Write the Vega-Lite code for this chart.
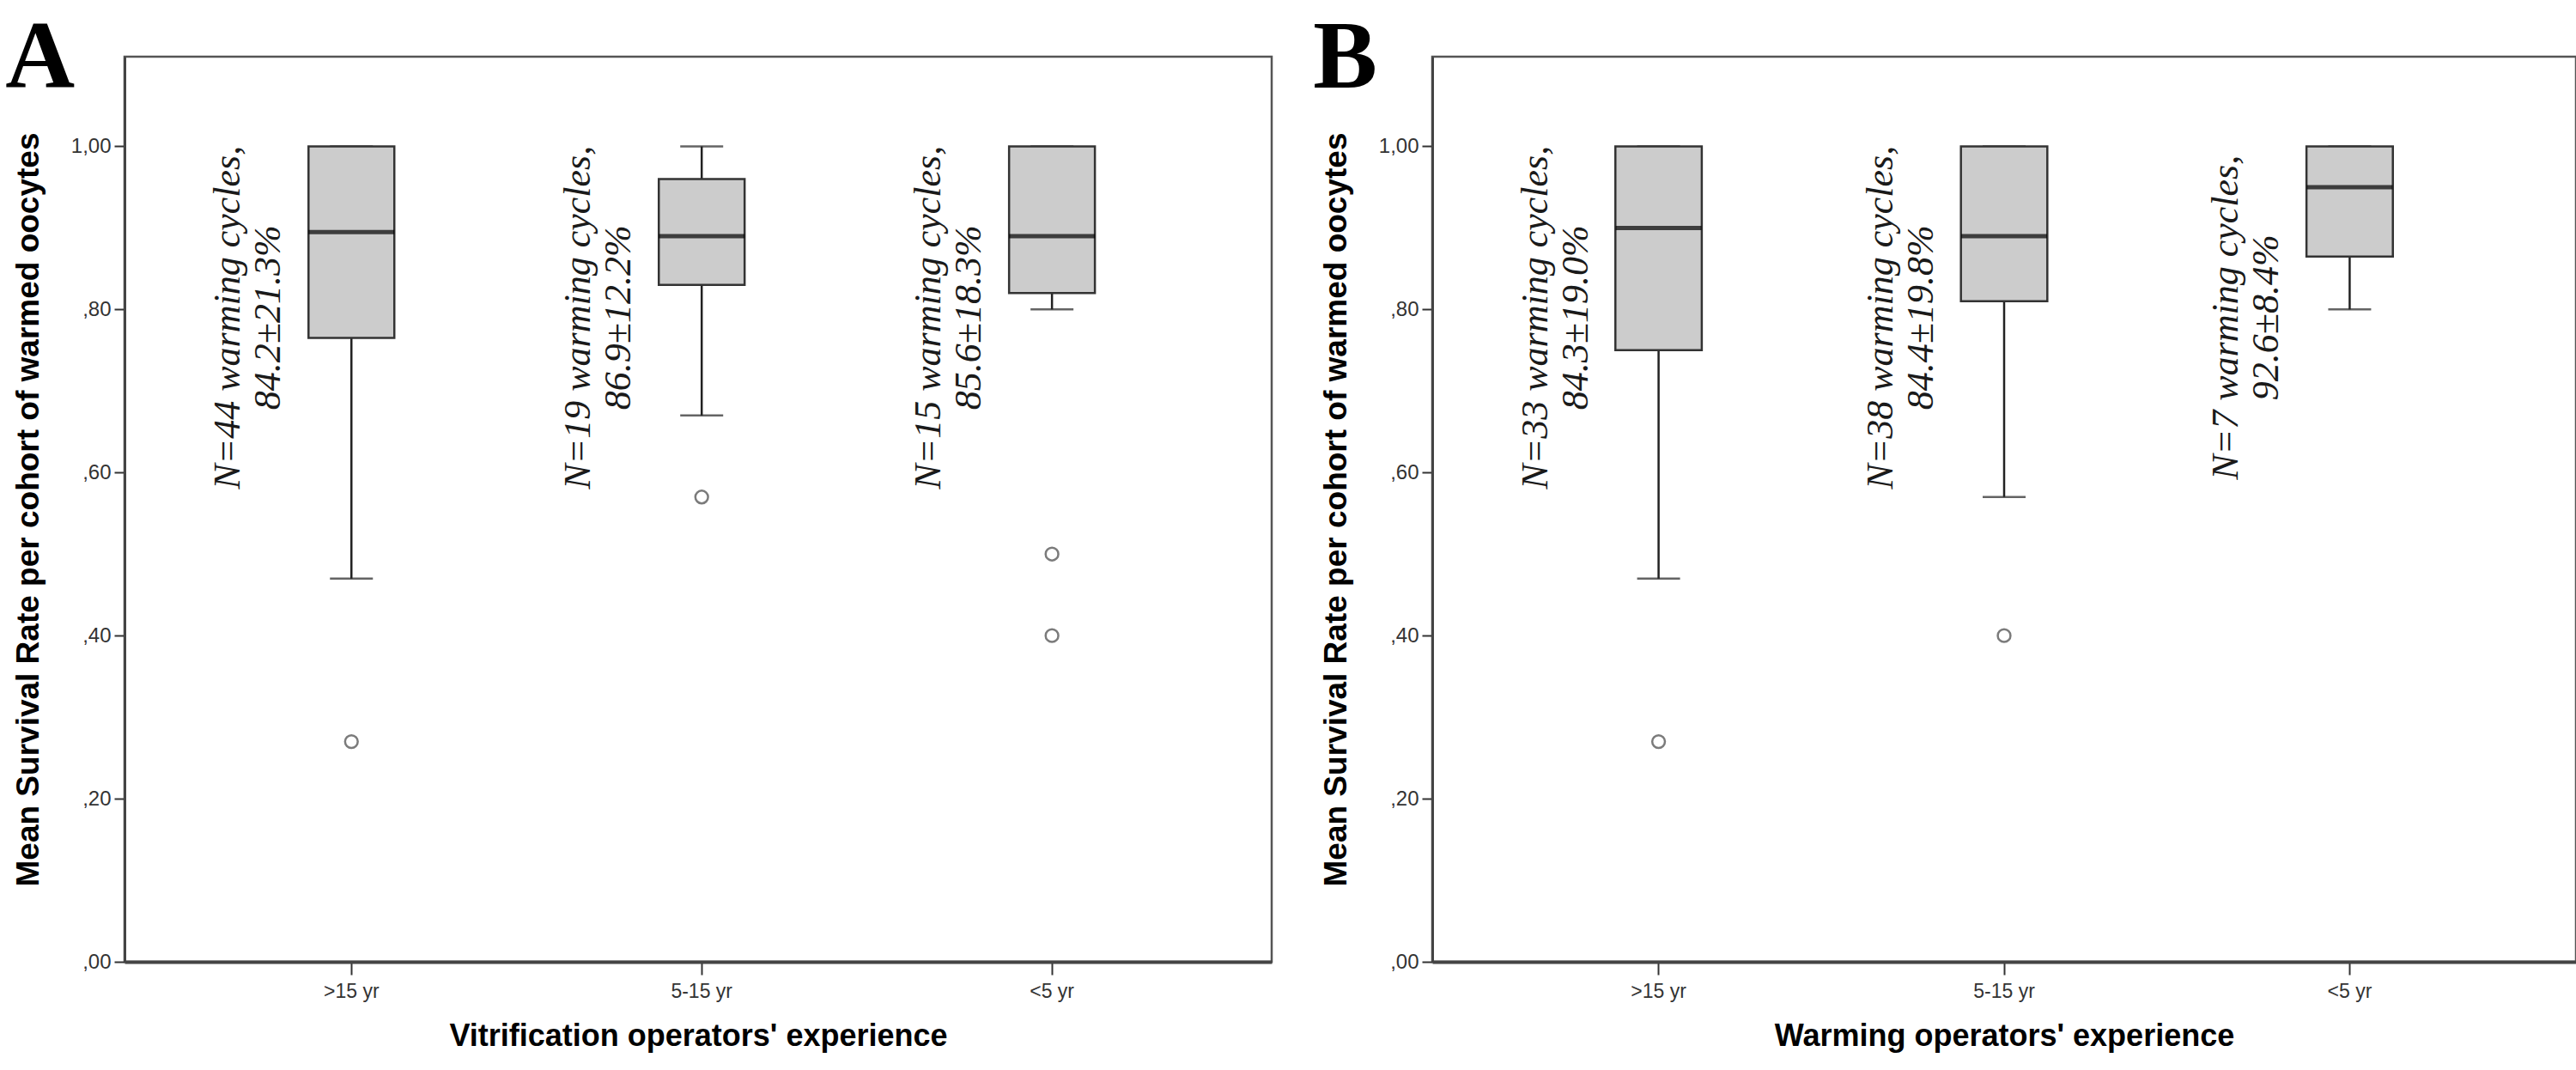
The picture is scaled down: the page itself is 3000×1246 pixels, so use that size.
{
  "$schema": "https://vega.github.io/schema/vega-lite/v6.json",
  "background": "white",
  "padding": {"left": 5, "top": 10, "right": 0, "bottom": 0},
  "spacing": 45,
  "datasets": {
    "boxes": [
      {"panel": "A", "exp": ">15 yr", "lo": 0.47, "q1": 0.765, "med": 0.895, "q3": 1.0, "hi": 1.0},
      {"panel": "A", "exp": "5-15 yr", "lo": 0.67, "q1": 0.83, "med": 0.89, "q3": 0.96, "hi": 1.0},
      {"panel": "A", "exp": "<5 yr", "lo": 0.80, "q1": 0.82, "med": 0.89, "q3": 1.0, "hi": 1.0},
      {"panel": "B", "exp": ">15 yr", "lo": 0.47, "q1": 0.75, "med": 0.90, "q3": 1.0, "hi": 1.0},
      {"panel": "B", "exp": "5-15 yr", "lo": 0.57, "q1": 0.81, "med": 0.89, "q3": 1.0, "hi": 1.0},
      {"panel": "B", "exp": "<5 yr", "lo": 0.80, "q1": 0.865, "med": 0.95, "q3": 1.0, "hi": 1.0}
    ],
    "outliers": [
      {"panel": "A", "exp": ">15 yr", "v": 0.27},
      {"panel": "A", "exp": "5-15 yr", "v": 0.57},
      {"panel": "A", "exp": "<5 yr", "v": 0.50},
      {"panel": "A", "exp": "<5 yr", "v": 0.40},
      {"panel": "B", "exp": ">15 yr", "v": 0.27},
      {"panel": "B", "exp": "5-15 yr", "v": 0.40}
    ],
    "labels": [
      {"panel": "A", "exp": ">15 yr", "txt": "N=44 warming cycles,\n84.2±21.3%"},
      {"panel": "A", "exp": "5-15 yr", "txt": "N=19 warming cycles,\n86.9±12.2%"},
      {"panel": "A", "exp": "<5 yr", "txt": "N=15 warming cycles,\n85.6±18.3%"},
      {"panel": "B", "exp": ">15 yr", "txt": "N=33 warming cycles,\n84.3±19.0%"},
      {"panel": "B", "exp": "5-15 yr", "txt": "N=38 warming cycles,\n84.4±19.8%"},
      {"panel": "B", "exp": "<5 yr", "txt": "N=7 warming cycles,\n92.6±8.4%"}
    ]
  },
  "hconcat": [
    {
      "width": 1336,
      "height": 1054,
      "title": {"text": "A", "anchor": "start", "frame": "bounds", "font": "Liberation Serif", "fontSize": 112, "fontWeight": "bold", "color": "#000", "baseline": "alphabetic", "offset": -148, "dx": -8},
      "layer": [
        {
          "data": {"name": "boxes"},
          "transform": [{"filter": "datum.panel == 'A'"}],
          "mark": {"type": "rule", "color": "#222", "strokeWidth": 2.5},
          "encoding": {
            "x": {"field": "exp", "type": "nominal", "sort": [">15 yr", "5-15 yr", "<5 yr"],
                  "scale": {"type": "band", "domain": [">15 yr", "5-15 yr", "<5 yr"], "paddingInner": 0.755, "paddingOuter": 0.515, "align": 0.51},
                  "axis": {"title": "Vitrification operators' experience", "labelAngle": 0, "tickSize": 15, "labelPadding": 8, "labelFontSize": 23, "titleFontSize": 36, "titlePadding": 23, "domainWidth": 4}},
            "y": {"field": "lo", "type": "quantitative",
                  "scale": {"domain": [0, 1.11], "nice": false, "zero": true},
                  "axis": {"title": "Mean Survival Rate per cohort of warmed oocytes", "values": [0, 0.2, 0.4, 0.6, 0.8, 1.0], "labelExpr": "datum.value >= 1 ? '1,00' : ',' + format(datum.value*100, '02d')", "tickSize": 12, "labelPadding": 4, "labelFontSize": 24, "titleFontSize": 37, "titlePadding": 30, "domainWidth": 3}},
            "y2": {"field": "hi"}
          }
        },
        {
          "data": {"name": "boxes"},
          "transform": [{"filter": "datum.panel == 'A'"}],
          "mark": {"type": "tick", "color": "#222", "thickness": 2.5, "size": 50},
          "encoding": {"x": {"field": "exp", "type": "nominal"}, "y": {"field": "lo", "type": "quantitative"}}
        },
        {
          "data": {"name": "boxes"},
          "transform": [{"filter": "datum.panel == 'A'"}],
          "mark": {"type": "tick", "color": "#222", "thickness": 2.5, "size": 50},
          "encoding": {"x": {"field": "exp", "type": "nominal"}, "y": {"field": "hi", "type": "quantitative"}}
        },
        {
          "data": {"name": "boxes"},
          "transform": [{"filter": "datum.panel == 'A'"}],
          "mark": {"type": "bar", "fill": "#cccccc", "stroke": "#333333", "strokeWidth": 2.5},
          "encoding": {"x": {"field": "exp", "type": "nominal"}, "y": {"field": "q1", "type": "quantitative"}, "y2": {"field": "q3"}}
        },
        {
          "data": {"name": "boxes"},
          "transform": [{"filter": "datum.panel == 'A'"}],
          "mark": {"type": "tick", "color": "#000", "thickness": 5, "size": 100},
          "encoding": {"x": {"field": "exp", "type": "nominal"}, "y": {"field": "med", "type": "quantitative"}}
        },
        {
          "data": {"name": "outliers"},
          "transform": [{"filter": "datum.panel == 'A'"}],
          "mark": {"type": "point", "shape": "circle", "filled": false, "stroke": "#444", "strokeWidth": 2.5, "size": 220},
          "encoding": {"x": {"field": "exp", "type": "nominal"}, "y": {"field": "v", "type": "quantitative"}}
        },
        {
          "data": {"name": "labels"},
          "transform": [{"filter": "datum.panel == 'A'"}],
          "mark": {"type": "text", "angle": 270, "align": "center", "baseline": "middle", "font": "Liberation Serif", "fontStyle": "italic", "fontSize": 44, "lineHeight": 47, "lineBreak": "\n", "dy": -143, "color": "#1a1a1a"},
          "encoding": {"x": {"field": "exp", "type": "nominal"}, "y": {"datum": 0.79, "type": "quantitative"}, "text": {"field": "txt"}}
        }
      ]
    },
    {
      "width": 1332,
      "height": 1054,
      "title": {"text": "B", "anchor": "start", "frame": "bounds", "font": "Liberation Serif", "fontSize": 112, "fontWeight": "bold", "color": "#000", "baseline": "alphabetic", "offset": -148, "dx": -8},
      "layer": [
        {
          "data": {"name": "boxes"},
          "transform": [{"filter": "datum.panel == 'B'"}],
          "mark": {"type": "rule", "color": "#222", "strokeWidth": 2.5},
          "encoding": {
            "x": {"field": "exp", "type": "nominal", "sort": [">15 yr", "5-15 yr", "<5 yr"],
                  "scale": {"type": "band", "domain": [">15 yr", "5-15 yr", "<5 yr"], "paddingInner": 0.75, "paddingOuter": 0.53, "align": 0.5},
                  "axis": {"title": "Warming operators' experience", "labelAngle": 0, "tickSize": 15, "labelPadding": 8, "labelFontSize": 23, "titleFontSize": 36, "titlePadding": 23, "domainWidth": 4}},
            "y": {"field": "lo", "type": "quantitative",
                  "scale": {"domain": [0, 1.11], "nice": false, "zero": true},
                  "axis": {"title": "Mean Survival Rate per cohort of warmed oocytes", "values": [0, 0.2, 0.4, 0.6, 0.8, 1.0], "labelExpr": "datum.value >= 1 ? '1,00' : ',' + format(datum.value*100, '02d')", "tickSize": 12, "labelPadding": 4, "labelFontSize": 24, "titleFontSize": 37, "titlePadding": 30, "domainWidth": 3}},
            "y2": {"field": "hi"}
          }
        },
        {
          "data": {"name": "boxes"},
          "transform": [{"filter": "datum.panel == 'B'"}],
          "mark": {"type": "tick", "color": "#222", "thickness": 2.5, "size": 50},
          "encoding": {"x": {"field": "exp", "type": "nominal"}, "y": {"field": "lo", "type": "quantitative"}}
        },
        {
          "data": {"name": "boxes"},
          "transform": [{"filter": "datum.panel == 'B'"}],
          "mark": {"type": "tick", "color": "#222", "thickness": 2.5, "size": 50},
          "encoding": {"x": {"field": "exp", "type": "nominal"}, "y": {"field": "hi", "type": "quantitative"}}
        },
        {
          "data": {"name": "boxes"},
          "transform": [{"filter": "datum.panel == 'B'"}],
          "mark": {"type": "bar", "fill": "#cccccc", "stroke": "#333333", "strokeWidth": 2.5},
          "encoding": {"x": {"field": "exp", "type": "nominal"}, "y": {"field": "q1", "type": "quantitative"}, "y2": {"field": "q3"}}
        },
        {
          "data": {"name": "boxes"},
          "transform": [{"filter": "datum.panel == 'B'"}],
          "mark": {"type": "tick", "color": "#000", "thickness": 5, "size": 100},
          "encoding": {"x": {"field": "exp", "type": "nominal"}, "y": {"field": "med", "type": "quantitative"}}
        },
        {
          "data": {"name": "outliers"},
          "transform": [{"filter": "datum.panel == 'B'"}],
          "mark": {"type": "point", "shape": "circle", "filled": false, "stroke": "#444", "strokeWidth": 2.5, "size": 220},
          "encoding": {"x": {"field": "exp", "type": "nominal"}, "y": {"field": "v", "type": "quantitative"}}
        },
        {
          "data": {"name": "labels"},
          "transform": [{"filter": "datum.panel == 'B'"}],
          "mark": {"type": "text", "angle": 270, "align": "center", "baseline": "middle", "font": "Liberation Serif", "fontStyle": "italic", "fontSize": 44, "lineHeight": 47, "lineBreak": "\n", "dy": -143, "color": "#1a1a1a"},
          "encoding": {"x": {"field": "exp", "type": "nominal"}, "y": {"datum": 0.79, "type": "quantitative"}, "text": {"field": "txt"}}
        }
      ]
    }
  ],
  "config": {
    "view": {"stroke": "#555555", "strokeWidth": 2.5},
    "axis": {"labelFont": "Liberation Sans", "titleFont": "Liberation Sans", "labelColor": "#333333", "titleColor": "#000000", "titleFontWeight": "bold", "grid": false, "tickColor": "#333333", "tickWidth": 2, "domainColor": "#444444"}
  }
}
